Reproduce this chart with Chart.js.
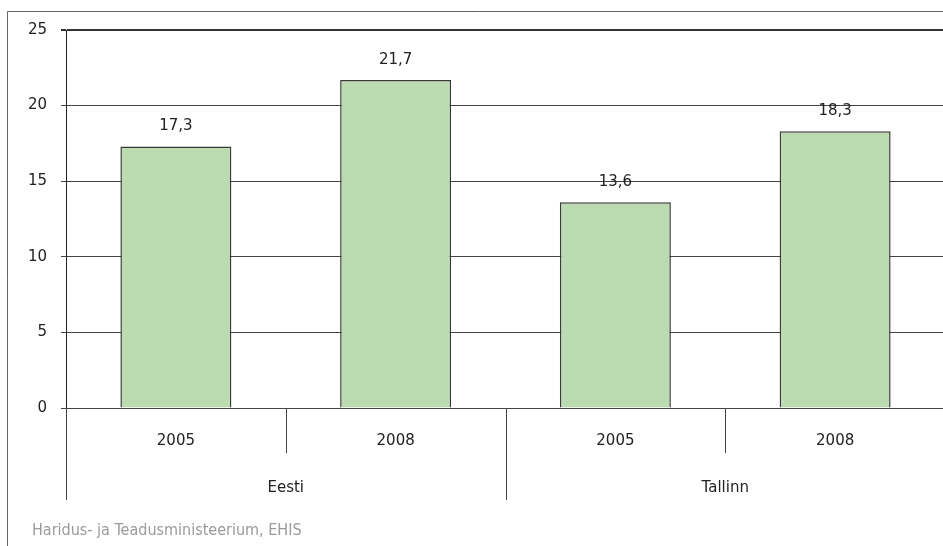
<!DOCTYPE html>
<html>
<head>
<meta charset="utf-8">
<script src="https://cdn.jsdelivr.net/npm/chart.js@4/dist/chart.umd.min.js"></script>
<style>
html,body{margin:0;padding:0;background:#fff;overflow:hidden;width:943px;height:546px;}
#wrap{width:950px;height:546px;}
</style>
</head>
<body>
<div id="wrap"><canvas id="c" width="950" height="546"></canvas></div>
<script>
const years = ['2005', '2008', '2005', '2008'];
const groups = ['Eesti', 'Tallinn'];
const values = [17.3, 21.7, 13.6, 18.3];
const valueLabels = ['17,3', '21,7', '13,6', '18,3'];
const yTicks = [0, 5, 10, 15, 20, 25];
const sourceText = 'Haridus- ja Teadusministeerium, EHIS';

const FAMILY = '"DejaVu Sans", sans-serif';
const LABEL_FONT = '15px ' + FAMILY;
const SOURCE_FONT = '16px "DejaVu Sans Condensed", "DejaVu Sans", sans-serif';

const decor = {
  id: 'decor',
  beforeDraw(chart) {
    const ctx = chart.ctx;
    ctx.save();
    ctx.fillStyle = '#fff';
    ctx.fillRect(0, 0, chart.width, chart.height);
    ctx.strokeStyle = '#666';
    ctx.lineWidth = 1;
    ctx.beginPath();
    ctx.moveTo(7.5, chart.height);
    ctx.lineTo(7.5, 11.5);
    ctx.lineTo(chart.width, 11.5);
    ctx.stroke();
    ctx.restore();
  },
  afterDraw(chart) {
    const ctx = chart.ctx;
    const x = chart.scales.x;
    const area = chart.chartArea;
    const meta = chart.getDatasetMeta(0);
    ctx.save();
    // value labels
    ctx.fillStyle = '#222';
    ctx.font = LABEL_FONT;
    ctx.textAlign = 'center';
    ctx.textBaseline = 'alphabetic';
    meta.data.forEach((bar, i) => {
      ctx.fillText(valueLabels[i], bar.x, bar.y - 16);
    });
    // separators
    const px = i => x.getPixelForValue(i);
    const bounds = [];
    bounds.push(area.left);
    for (let i = 0; i < years.length - 1; i++) bounds.push((px(i) + px(i + 1)) / 2);
    bounds.push(area.right);
    ctx.strokeStyle = '#444';
    ctx.lineWidth = 1;
    bounds.forEach((b, i) => {
      const isGroup = (i % 2 === 0);
      const xx = Math.round(b) + 0.5;
      ctx.beginPath();
      ctx.moveTo(xx, area.bottom);
      ctx.lineTo(xx, area.bottom + (isGroup ? 92 : 45));
      ctx.stroke();
    });
    // group labels
    ctx.fillStyle = '#222';
    ctx.textBaseline = 'middle';
    groups.forEach((g, gi) => {
      const cx = (bounds[gi * 2] + bounds[gi * 2 + 2]) / 2;
      ctx.fillText(g, cx, 488);
    });
    // source
    ctx.fillStyle = '#9a9a9a';
    ctx.font = SOURCE_FONT;
    ctx.textAlign = 'left';
    ctx.fillText(sourceText, 32, 531);
    ctx.restore();
  }
};

new Chart(document.getElementById('c'), {
  type: 'bar',
  data: {
    labels: years,
    datasets: [{
      data: values,
      backgroundColor: '#bbdcb0',
      borderColor: '#3a3a3a',
      borderWidth: 1.5,
      categoryPercentage: 1,
      barPercentage: 0.505
    }]
  },
  options: {
    responsive: false,
    animation: false,
    events: [],
    layout: { padding: { top: 30, right: 5, left: 0, bottom: 0 } },
    plugins: { legend: { display: false }, tooltip: { enabled: false } },
    scales: {
      x: {
        afterFit(s) { s.height = 138; },
        grid: { display: false },
        border: { display: false },
        ticks: { color: '#222', font: { family: FAMILY, size: 15 }, padding: 16, maxRotation: 0, autoSkip: false }
      },
      y: {
        min: 0, max: 25,
        afterFit(s) { s.width = 66; },
        afterBuildTicks(s) { s.ticks = yTicks.map(v => ({ value: v })); },
        grid: {
          color: c => (c.tick && c.tick.value === 25) ? '#333' : '#444',
          lineWidth: c => (c.tick && (c.tick.value === 25)) ? 2 : 1,
          tickLength: 5,
          drawTicks: true
        },
        border: { display: true, color: '#222', width: 1 },
        ticks: { color: '#222', font: { family: FAMILY, size: 15 }, padding: 14 }
      }
    }
  },
  plugins: [decor]
});
</script>
</body>
</html>
